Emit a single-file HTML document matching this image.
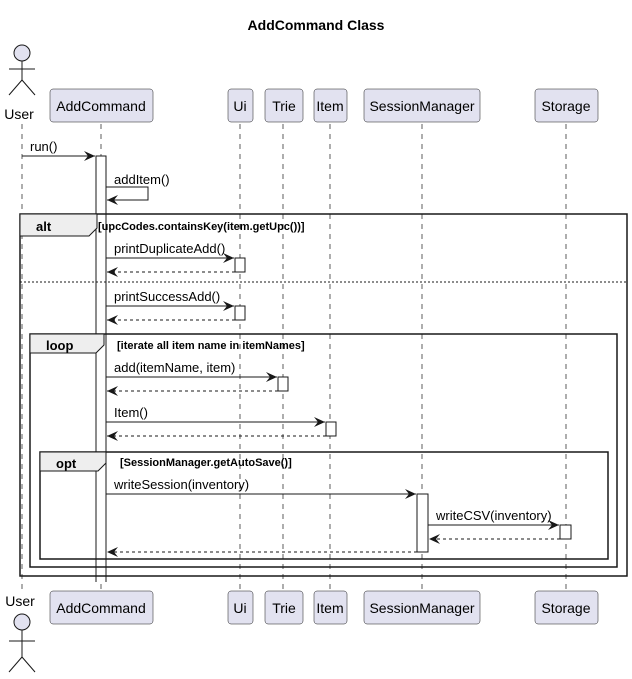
<!DOCTYPE html>
<html><head><meta charset="utf-8"><style>
html,body{margin:0;padding:0;background:#fff}
svg text{font-family:"Liberation Sans",sans-serif}
</style></head><body>
<svg width="632" height="674" viewBox="0 0 632 674" xmlns="http://www.w3.org/2000/svg">
<defs>
<marker id="a" markerWidth="12" markerHeight="10" refX="11" refY="5" orient="auto" markerUnits="userSpaceOnUse"><path d="M0,0 L11,5 L0,10 L4,5 Z" fill="#181818"/></marker>
</defs>
<text x="316" y="30" font-size="14" font-weight="bold" text-anchor="middle">AddCommand Class</text>
<g stroke="#181818" stroke-width="0.7" stroke-dasharray="5,5">
<line x1="22" y1="124" x2="22" y2="590"/>
<line x1="101" y1="124" x2="101" y2="590"/>
<line x1="240" y1="124" x2="240" y2="590"/>
<line x1="283" y1="124" x2="283" y2="590"/>
<line x1="330" y1="124" x2="330" y2="590"/>
<line x1="422" y1="124" x2="422" y2="590"/>
<line x1="566" y1="124" x2="566" y2="590"/>
</g>
<g stroke="#181818" fill="none">
<circle cx="22" cy="53" r="8" fill="#E2E2F0"/>
<line x1="22" y1="61" x2="22" y2="80"/><line x1="9" y1="69" x2="35" y2="69"/>
<line x1="22" y1="80" x2="9" y2="95"/><line x1="22" y1="80" x2="35" y2="95"/>
</g>
<text x="19" y="119" font-size="14" text-anchor="middle">User</text>
<text x="20" y="606" font-size="14" text-anchor="middle">User</text>
<g stroke="#181818" fill="none">
<circle cx="22" cy="622" r="8" fill="#E2E2F0"/>
<line x1="22" y1="630" x2="22" y2="657"/><line x1="9" y1="641" x2="35" y2="641"/>
<line x1="22" y1="657" x2="9" y2="672"/><line x1="22" y1="657" x2="35" y2="672"/>
</g>
<g fill="#E2E2F0" stroke="#181818" stroke-width="0.5">
<rect x="50" y="89" width="103" height="33" rx="3"/><rect x="228" y="89" width="25" height="33" rx="3"/>
<rect x="265" y="89" width="38" height="33" rx="3"/><rect x="314" y="89" width="33" height="33" rx="3"/>
<rect x="364" y="89" width="116" height="33" rx="3"/><rect x="535" y="89" width="63" height="33" rx="3"/>
<rect x="50" y="591" width="103" height="33" rx="3"/><rect x="228" y="591" width="25" height="33" rx="3"/>
<rect x="265" y="591" width="38" height="33" rx="3"/><rect x="314" y="591" width="33" height="33" rx="3"/>
<rect x="364" y="591" width="116" height="33" rx="3"/><rect x="535" y="591" width="63" height="33" rx="3"/>
</g>
<g font-size="14" text-anchor="middle">
<text x="101" y="111">AddCommand</text><text x="240" y="111">Ui</text><text x="284" y="111">Trie</text><text x="330" y="111">Item</text><text x="422" y="111">SessionManager</text><text x="566" y="111">Storage</text>
<text x="101" y="613">AddCommand</text><text x="240" y="613">Ui</text><text x="284" y="613">Trie</text><text x="330" y="613">Item</text><text x="422" y="613">SessionManager</text><text x="566" y="613">Storage</text>
</g>
<g fill="#fff" stroke="#181818" stroke-width="1">
<path d="M96,582 V156 H106 V582" />
<rect x="235" y="258" width="10" height="14"/>
<rect x="235" y="306" width="10" height="14"/>
<rect x="278" y="377" width="10" height="14"/>
<rect x="326" y="422" width="10" height="14"/>
<rect x="417" y="494" width="11" height="58"/>
<rect x="560" y="525" width="11" height="14"/>
</g>
<g fill="none" stroke="#181818" stroke-width="1.5">
<rect x="20" y="214" width="607" height="362"/>
<rect x="30" y="334" width="587" height="233"/>
<rect x="40" y="452" width="568" height="107"/>
</g>
<g fill="#EEEEEE" stroke="#181818" stroke-width="1">
<path d="M20,214 H97 V228 L89,236 H20 Z"/>
<path d="M30,334 H104 V345 L96,353 H30 Z"/>
<path d="M40,452 H106 V463 L98,471 H40 Z"/>
</g>
<line x1="20" y1="282" x2="627" y2="282" stroke="#181818" stroke-width="1" stroke-dasharray="2,2"/>
<g font-size="13" font-weight="bold">
<text x="36" y="231">alt</text><text x="46" y="350">loop</text><text x="56" y="468">opt</text>
</g>
<g font-size="11" font-weight="bold">
<text x="98" y="230">[upcCodes.containsKey(item.getUpc())]</text>
<text x="117" y="349">[iterate all item name in itemNames]</text>
<text x="120" y="466">[SessionManager.getAutoSave()]</text>
</g>
<g stroke="#181818" stroke-width="1" fill="none">
<line x1="22" y1="156" x2="95" y2="156" marker-end="url(#a)"/>
<polyline points="106,187 148,187 148,200 107,200" marker-end="url(#a)"/>
<line x1="106" y1="258" x2="234" y2="258" marker-end="url(#a)"/>
<line x1="235" y1="272" x2="107" y2="272" stroke-dasharray="3,3" marker-end="url(#a)"/>
<line x1="106" y1="306" x2="234" y2="306" marker-end="url(#a)"/>
<line x1="235" y1="320" x2="107" y2="320" stroke-dasharray="3,3" marker-end="url(#a)"/>
<line x1="106" y1="377" x2="277" y2="377" marker-end="url(#a)"/>
<line x1="278" y1="391" x2="107" y2="391" stroke-dasharray="3,3" marker-end="url(#a)"/>
<line x1="106" y1="422" x2="325" y2="422" marker-end="url(#a)"/>
<line x1="326" y1="436" x2="107" y2="436" stroke-dasharray="3,3" marker-end="url(#a)"/>
<line x1="106" y1="494" x2="416" y2="494" marker-end="url(#a)"/>
<line x1="428" y1="525" x2="559" y2="525" marker-end="url(#a)"/>
<line x1="560" y1="539" x2="429" y2="539" stroke-dasharray="3,3" marker-end="url(#a)"/>
<line x1="417" y1="552" x2="107" y2="552" stroke-dasharray="3,3" marker-end="url(#a)"/>
</g>
<g font-size="13">
<text x="30" y="151">run()</text>
<text x="114" y="184">addItem()</text>
<text x="114" y="253">printDuplicateAdd()</text>
<text x="114" y="301">printSuccessAdd()</text>
<text x="114" y="372">add(itemName, item)</text>
<text x="114" y="417">Item()</text>
<text x="114" y="489">writeSession(inventory)</text>
<text x="436" y="520">writeCSV(inventory)</text>
</g>
</svg>
</body></html>
